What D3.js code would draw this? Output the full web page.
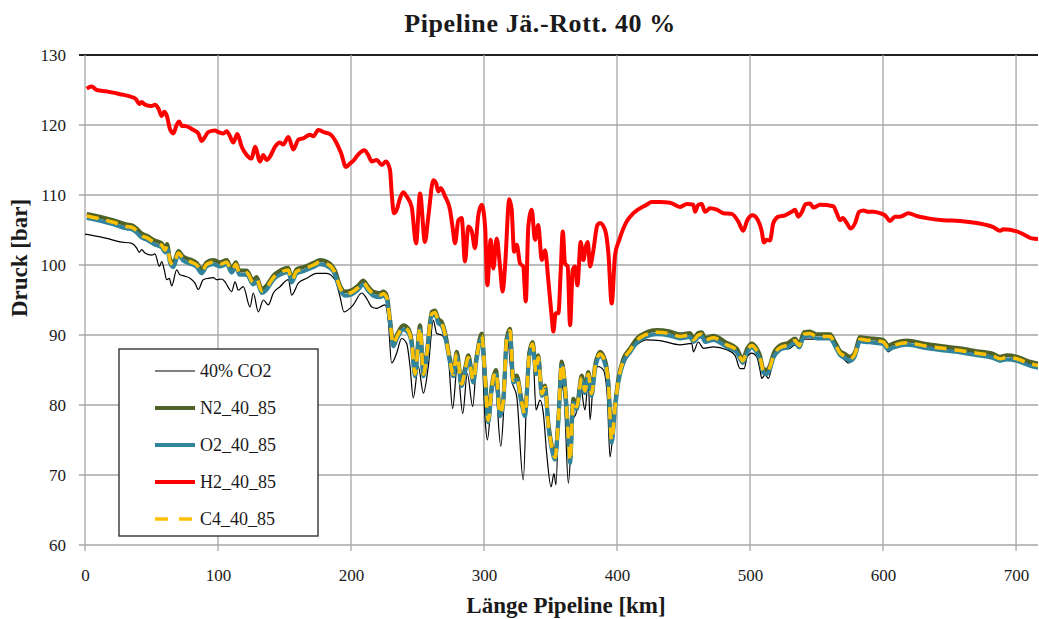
<!DOCTYPE html>
<html>
<head>
<meta charset="utf-8">
<script src="https://cdn.jsdelivr.net/npm/d3@7"></script>
<style>
  body { margin: 0; background: #fff; }
  text { font-family: "Liberation Serif", serif; fill: #1a1a1a; }
</style>
</head>
<body>
<div id="chart"></div>
<script>
// Data (km along pipeline, pressure in bar)
const xTicks = [0, 100, 200, 300, 400, 500, 600, 700];
const yTicks = [60, 70, 80, 90, 100, 110, 120, 130];

const kmCO2 = [0,6.2,16.3,26.3,35.1,38.9,40.8,42.6,45.1,50.2,
  52.6,55.9,57.7,59.6,61.4,63.4,65.2,68.9,71.4,75.2,
  78.9,82.7,85.2,88.9,92.7,96.5,99,102.8,105.3,107.7,
  110.3,112.8,115.3,119,124.1,126.5,130.3,134.1,137.8,141.6,
  146.6,152.9,155.4,160.4,166.7,174.2,181.7,188,191.7,194.7,
  199.2,201.7,208,211.8,215.6,219.3,221.8,225.6,228,230.5,
  234.3,238,241.8,244.4,246.8,250.6,254.4,258.1,261.9,264.4,
  268.2,273.1,276.4,279.9,284,287.4,291.5,294.4,297.7,300.8,
  302.5,305.8,308.3,312.6,315.3,317.5,320.8,324.6,329.5,333.3,
  336.6,339.1,342.1,344.6,347.1,350.4,352.6,354.1,357.1,360.2,
  363.4,366.7,369.2,372.2,375.9,378.4,379.7,382.7,385.9,389.7,
  392.7,394.7,397.7,401,404.7,409.8,414.8,422.3,432.3,447.4,
  456.2,457.4,461.1,464.9,472.4,482.4,488.7,492.5,495.5,497.9,
  501.3,505,507.5,508.8,511.3,513.8,517.5,522.6,530.1,533.8,
  537,540.6,552.6,561.4,563.9,567.7,571.4,573.9,577.7,581.4,
  585.2,592.7,600.2,604,607.7,617.8,632.8,657.9,682.9,708,
  717.3];
const co2 = [104.4,104.2,103.8,103.3,103.1,102.4,101.8,102.2,101.7,101.4,
  101.6,99.8,100.5,99.3,97.9,98.1,97.0,99.3,98.6,98.4,
  98.1,97.4,96.5,97.9,98.1,98.2,97.9,98.0,97.6,96.8,
  96.2,97.6,96.4,96.9,94.0,96.0,93.3,95.0,94.3,96.0,
  96.9,97.9,95.7,97.4,98.1,98.8,98.8,97.9,95.5,93.3,
  93.8,94.3,96.0,95.2,94.0,93.8,94.0,94.3,92.1,86.0,
  87.4,89.5,88.8,85.5,81.0,85.5,81.7,85.5,92.1,90.2,
  90.0,86.9,79.5,85.5,78.8,84.5,79.8,86.4,89.3,77.9,
  75.0,81.2,83.1,74.1,81.2,89.8,83.6,81.2,69.3,87.4,
  87.9,79.3,80.7,78.8,73.1,68.3,70.2,68.6,83.6,81.2,
  68.8,77.9,78.8,83.1,79.3,83.6,77.9,84.5,85.5,85.0,
  81.2,72.6,77.9,83.1,85.5,87.6,88.6,89.3,89.2,88.6,
  88.8,87.6,89.0,88.1,88.3,87.9,87.1,85.2,85.2,86.9,
  87.4,86.9,85.0,83.8,84.3,83.8,86.4,87.9,88.1,88.6,
  88.1,89.4,89.4,89.4,88.3,87.1,86.4,86.0,86.7,88.8,
  89.0,88.8,88.7,87.6,88.1,88.6,88.3,87.9,86.9,86.0,
  85.5];

const kmMix = [1.3,11.3,21.3,31.4,35.1,38.9,42.6,46.4,52.6,57.7,
  60.2,61.7,63.9,66.4,70.2,73.9,78.9,84,87.7,91.5,
  96.5,101.5,106.5,110.3,113.5,116,121.6,126.5,129,132.9,
  136.6,141.6,146.6,152.9,155.4,159.1,164.1,171.7,176.7,184.2,
  188,191.7,195.5,200.5,205.5,209.2,213,216.8,221.8,224.3,
  226.8,229.3,231.8,234.4,239.3,243.1,245.6,248.1,251.9,254.4,
  257,260.7,263.2,265.6,268.2,270.7,274.4,276.9,279.5,283.2,
  285.7,288.2,292,294.5,298.3,300.8,303.2,305.8,309,312,
  314.5,317,319.5,322,324.6,328.3,330.8,334.1,336.6,339.1,
  340.8,343.4,345.9,348.3,350.9,353.4,355.9,358.4,360.9,363.4,
  364.7,367.1,369.7,373.4,375.9,378.4,380.9,383.5,387.2,391,
  393.5,396,398.5,401,404.7,409.8,414.8,422.3,429.8,439.8,
  447.4,454.9,457.4,461.1,463.7,466.2,472.4,482.4,490,494.5,
  497.9,501.3,505,507.5,510,512.5,515,517.5,522.6,528.8,
  533.8,537,540.6,545.1,550.1,560.2,563.9,567.7,571.4,575.2,
  578.9,582.7,586.5,592.7,600.2,604,607.7,617.8,632.8,645.3,
  657.9,670.4,682.9,688,693,700.5,710.5,717.3];

const n2 = [107.3,106.9,106.4,105.8,105.7,105.2,104.5,104.2,103.5,103.1,
  102.4,103.0,100.9,100.3,102.0,101.2,100.8,100.3,99.4,100.4,
  100.7,100.4,100.7,99.5,100.4,99.2,99.2,97.8,98.3,96.6,
  97.1,98.5,99.2,99.6,98.1,99.4,99.7,100.3,100.7,100.2,
  99.2,97.1,96.2,96.4,97.1,97.8,96.9,96.2,96.0,96.2,
  95.7,92.3,89.0,90.0,91.4,90.9,89.2,84.7,91.4,84.7,
  87.6,93.3,93.5,92.3,91.9,90.4,86.6,84.7,87.6,83.3,
  85.2,87.1,83.8,87.1,90.2,84.2,78.1,82.8,85.0,79.0,
  80.9,89.5,90.9,83.8,84.2,80.7,79.0,87.6,89.0,85.0,
  87.1,81.9,82.8,77.6,74.3,72.8,78.1,86.2,82.8,75.7,
  72.3,80.9,80.0,84.2,82.3,84.7,81.9,85.7,87.6,86.4,
  83.3,75.2,80.0,83.8,86.6,88.1,89.5,90.4,90.7,90.5,
  90.1,90.3,89.6,90.3,90.4,89.6,89.9,88.9,88.1,86.6,
  88.1,88.8,88.1,87.1,85.2,85.0,85.7,87.3,88.5,88.9,
  89.5,88.8,90.4,90.5,90.1,90.1,89.0,87.7,87.3,86.9,
  87.6,89.7,89.6,89.5,89.3,88.5,88.8,89.2,88.7,88.4,
  88.1,87.7,87.3,86.9,87.1,86.9,86.2,85.9];

const o2 = [106.7,106.3,105.8,105.2,105.1,104.6,103.9,103.6,102.9,102.5,
  101.8,102.4,100.3,99.7,101.4,100.6,100.2,99.7,98.8,99.8,
  100.1,99.8,100.1,98.9,99.8,98.6,98.6,97.2,97.7,96.0,
  96.5,97.9,98.6,99.0,97.5,98.8,99.1,99.7,100.1,99.6,
  98.6,96.5,95.6,95.8,96.5,97.2,96.3,95.6,95.4,95.6,
  95.1,91.7,88.4,89.4,90.8,90.3,88.6,84.1,90.8,84.1,
  87.0,92.7,92.9,91.7,91.3,89.8,86.0,84.1,87.0,82.7,
  84.6,86.5,83.2,86.5,89.6,83.6,77.5,82.2,84.4,78.4,
  80.3,88.9,90.3,83.2,83.6,80.1,78.4,87.0,88.4,84.4,
  86.5,81.3,82.2,77.0,73.7,72.2,77.5,85.6,82.2,75.1,
  71.7,80.3,79.4,83.6,81.7,84.1,81.3,85.1,87.0,85.8,
  82.7,74.6,79.4,83.2,86.0,87.5,88.9,89.8,90.1,89.9,
  89.5,89.7,89.0,89.7,89.8,89.0,89.3,88.3,87.5,86.0,
  87.5,88.2,87.5,86.5,84.6,84.4,85.1,86.7,87.9,88.3,
  88.9,88.2,89.8,89.9,89.5,89.5,88.4,87.1,86.7,86.3,
  87.0,89.1,89.0,88.9,88.7,87.9,88.2,88.6,88.1,87.8,
  87.5,87.1,86.7,86.3,86.5,86.3,85.6,85.3];

const c4 = [107.0,106.6,106.1,105.5,105.4,104.9,104.2,103.9,103.2,102.8,
  102.1,102.7,100.6,100.0,101.7,100.9,100.5,100.0,99.1,100.1,
  100.4,100.1,100.4,99.2,100.1,98.9,98.9,97.5,98.0,96.3,
  96.8,98.2,98.9,99.3,97.8,99.1,99.4,100.0,100.4,99.9,
  98.9,96.8,95.9,96.1,96.8,97.5,96.6,95.9,95.7,95.9,
  95.4,92.0,88.7,89.7,91.1,90.6,88.9,84.4,91.1,84.4,
  87.3,93.0,93.2,92.0,91.6,90.1,86.3,84.4,87.3,83.0,
  84.9,86.8,83.5,86.8,89.9,83.9,77.8,82.5,84.7,78.7,
  80.6,89.2,90.6,83.5,83.9,80.4,78.7,87.3,88.7,84.7,
  86.8,81.6,82.5,77.3,74.0,72.5,77.8,85.9,82.5,75.4,
  72.0,80.6,79.7,83.9,82.0,84.4,81.6,85.4,87.3,86.1,
  83.0,74.9,79.7,83.5,86.3,87.8,89.2,90.1,90.4,90.2,
  89.8,90.0,89.3,90.0,90.1,89.3,89.6,88.6,87.8,86.3,
  87.8,88.5,87.8,86.8,84.9,84.7,85.4,87.0,88.2,88.6,
  89.2,88.5,90.1,90.2,89.8,89.8,88.7,87.4,87.0,86.6,
  87.3,89.4,89.3,89.2,89.0,88.2,88.5,88.9,88.4,88.1,
  87.8,87.4,87.0,86.6,86.8,86.6,85.9,85.6];

const kmH2 = [1.3,5,8.8,16.3,26.3,35.1,38.3,40.8,42.6,45.1,
  50.2,52.6,55.1,57.7,59.6,61.4,63.9,66.4,68.9,70.7,
  72.7,76.5,81.4,85.2,87.7,90.2,92.7,97.7,100.2,104,
  106.5,109,111.5,114.5,117.8,121.6,125.3,127.8,131.6,134.1,
  136.6,139.1,142.9,146.6,149.1,152.9,156.6,160.4,164.1,169.2,
  171.7,175.4,179.2,184.2,189.2,192.5,196.2,199.2,202.3,205.5,
  210,213,215.6,219.3,223.1,226.3,229.3,230.6,232.3,234.4,
  236.8,239.3,241.8,245.6,248.9,251.9,255.6,258.1,261.9,263.9,
  265.6,267.4,270.7,274.4,276.5,278.2,280.7,283.2,285.7,288.2,
  290.8,293.2,295.7,298.3,300.8,302.5,305,307,309.5,312,
  314,315.8,319,320.8,322.6,324.6,327.1,329.5,331.4,333.3,
  335.9,338.3,340.8,343.4,345.9,348.3,350.9,352.1,353.9,355.9,
  357.7,359.2,360.9,362.9,364.7,366.7,368.4,370.2,372.7,374.7,
  376.5,378,379.7,382.2,385.2,387.2,391,393.5,396,398.5,
  401.7,407.2,412.3,422.3,426,432.3,439.8,447.4,452.4,457.4,
  458.6,461.1,463.7,466.2,469.9,475,480,486.2,491.2,494.9,
  497.9,502,505,508.8,510.5,512.5,515,517.5,521.3,526.3,
  531.3,533.8,536.3,538.8,541.8,545.1,547.6,552.6,562.6,565.2,
  567.7,569.7,572.7,575.7,579,582,585.2,588.9,592.7,597.7,
  601.5,605.3,609,612.8,619,625.3,632.8,645.3,657.9,670.4,
  682.9,688,690.5,700.5,705.5,711.8,717.3];
const h2 = [125.2,125.5,125.0,124.8,124.4,124.0,123.7,123.0,123.3,122.9,
  122.7,122.9,122.4,121.3,121.9,121.4,119.4,118.8,120.0,120.5,
  119.9,119.8,119.3,118.8,117.7,118.3,119.0,119.2,119.0,118.8,
  119.1,118.4,117.5,118.7,116.9,115.7,115.2,116.9,114.8,115.7,
  115.0,115.5,116.9,117.5,117.2,118.3,116.5,117.9,118.1,118.6,
  118.4,119.3,119.0,118.7,117.4,116.0,114.0,114.5,115.0,115.8,
  116.4,115.7,114.8,115.0,114.3,114.8,113.6,110.2,107.4,107.9,
  109.5,110.4,109.8,108.3,103.1,110.2,103.3,106.9,112.1,111.7,
  110.5,111.0,109.8,107.9,105.2,103.1,106.4,106.7,100.5,105.5,
  104.8,102.4,107.1,108.6,105.5,97.1,103.6,99.5,103.8,99.8,
  96.2,99.8,109.4,107.9,101.9,102.9,100.2,99.8,94.8,105.5,
  107.9,103.6,105.7,100.7,102.1,97.9,92.6,90.5,93.1,93.1,
  99.3,104.8,100.2,99.8,91.4,99.3,99.8,97.1,103.3,100.7,
  102.6,103.3,99.8,102.1,105.7,106.0,105.0,101.7,94.5,101.4,
  103.6,106.2,107.4,108.6,109.0,109.0,108.9,108.3,108.7,108.6,
  107.6,108.6,108.7,107.6,108.1,107.9,107.4,107.3,106.2,104.9,
  106.4,107.1,106.7,104.8,103.2,103.6,103.5,106.0,106.9,107.1,
  107.6,107.9,106.9,107.5,108.7,108.8,108.2,108.6,108.4,107.4,
  106.4,106.7,106.0,105.2,106.0,107.6,107.8,107.6,107.6,107.4,
  107.1,106.3,106.9,106.9,107.4,107.0,106.7,106.4,106.3,106.0,
  105.4,104.9,105.1,104.8,104.4,103.8,103.7];

const series = [
  { name: '40% CO2', km: kmCO2, values: co2, color: '#000000', width: 1.2, dash: null },
  { name: 'N2_40_85', km: kmMix, values: n2, color: '#4f6228', width: 4, dash: null },
  { name: 'O2_40_85', km: kmMix, values: o2, color: '#31849b', width: 4, dash: null },
  { name: 'H2_40_85', km: kmH2, values: h2, color: '#ff0000', width: 4, dash: null },
  { name: 'C4_40_85', km: kmMix, values: c4, color: '#ffc000', width: 3.5, dash: '12,8' },
];

const W = 1039, H = 619;
const margin = { top: 55, right: 1, bottom: 74, left: 85 };
const width = W - margin.left - margin.right;
const height = H - margin.top - margin.bottom;

const svg = d3.select('#chart').append('svg')
  .attr('width', W)
  .attr('height', H);

const x = d3.scaleLinear().domain([0, 716.5]).range([0, width]);
const y = d3.scaleLinear().domain([60, 130]).range([height, 0]);

const g = svg.append('g')
  .attr('transform', `translate(${margin.left}, ${margin.top})`);

// Grid lines
g.append('g').selectAll('line').data(yTicks).join('line')
  .attr('x1', -6).attr('x2', width)
  .attr('y1', d => y(d)).attr('y2', d => y(d))
  .attr('stroke', d => d === 130 ? '#222' : '#a6a6a6')
  .attr('stroke-width', d => d === 130 ? 1.8 : 1.3);

g.append('g').selectAll('line').data(xTicks).join('line')
  .attr('x1', d => x(d)).attr('x2', d => x(d))
  .attr('y1', 0).attr('y2', height + 6)
  .attr('stroke', '#a6a6a6')
  .attr('stroke-width', 1.3);

// Tick labels
const yAxis = d3.axisLeft(y).tickValues(yTicks).tickSize(0).tickPadding(19);
const xAxis = d3.axisBottom(x).tickValues(xTicks).tickSize(0).tickPadding(24);

g.append('g').call(yAxis)
  .call(s => s.select('.domain').remove())
  .selectAll('text')
  .attr('font-size', 17);

g.append('g')
  .attr('transform', `translate(0, ${height})`)
  .call(xAxis)
  .call(s => s.select('.domain').remove())
  .selectAll('text')
  .attr('font-size', 17);

// Lines
g.append('clipPath').attr('id', 'clip')
  .append('rect').attr('x', 0).attr('y', -5).attr('width', width).attr('height', height + 5);

const line = d3.line()
  .x(d => x(d[0]))
  .y(d => y(d[1]))
  .curve(d3.curveMonotoneX);

const plot = g.append('g').attr('clip-path', 'url(#clip)');
series.forEach((s) => {
  plot.append('path')
    .datum(s.km.map((k, i) => [k, s.values[i]]))
    .attr('fill', 'none')
    .attr('stroke', s.color)
    .attr('stroke-width', s.width)
    .attr('stroke-linejoin', 'round')
    .attr('stroke-dasharray', s.dash)
    .attr('d', line);
});

// Legend
const legend = svg.append('g').attr('transform', 'translate(119, 349)');
legend.append('rect')
  .attr('width', 199).attr('height', 187)
  .attr('fill', '#fff')
  .attr('stroke', '#333')
  .attr('stroke-width', 1.4);

series.forEach((s, i) => {
  const ly = 22 + i * 37;
  legend.append('line')
    .attr('x1', 36).attr('x2', 76)
    .attr('y1', ly).attr('y2', ly)
    .attr('stroke', s.color)
    .attr('stroke-width', s.width)
    .attr('stroke-dasharray', s.dash ? '13,11' : null);
  legend.append('text')
    .attr('x', 81).attr('y', ly + 6)
    .attr('font-size', 18)
    .text(s.name);
});

// Titles
svg.append('text')
  .attr('x', 540).attr('y', 32)
  .attr('text-anchor', 'middle')
  .attr('font-size', 26)
  .attr('font-weight', 'bold')
  .attr('letter-spacing', 0.6)
  .text('Pipeline Jä.-Rott. 40 %');

svg.append('text')
  .attr('x', 566).attr('y', 613)
  .attr('text-anchor', 'middle')
  .attr('font-size', 23)
  .attr('font-weight', 'bold')
  .text('Länge Pipeline [km]');

svg.append('text')
  .attr('transform', 'translate(27, 258) rotate(-90)')
  .attr('text-anchor', 'middle')
  .attr('font-size', 23)
  .attr('font-weight', 'bold')
  .text('Druck [bar]');
</script>
</body>
</html>
